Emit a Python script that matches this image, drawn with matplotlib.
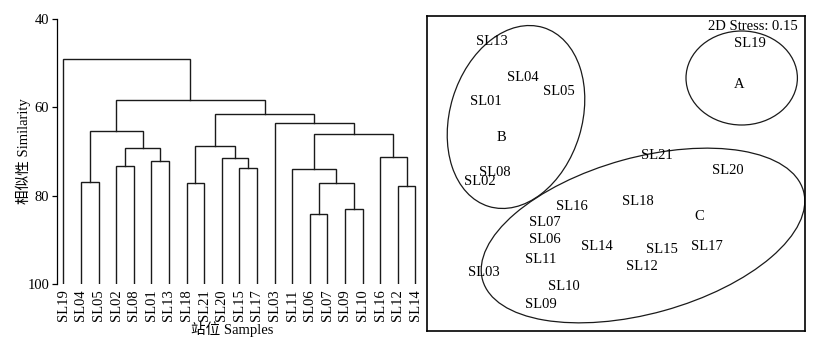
import matplotlib
matplotlib.use("Agg")
import matplotlib.pyplot as plt
from matplotlib.patches import Ellipse

plt.rcParams["font.family"] = ["Liberation Serif", "Noto Sans CJK SC"]
plt.rcParams["font.size"] = 10.5

# --- cluster dendrogram (leaf order left to right) ---
leaves = ["SL19", "SL04", "SL05", "SL02", "SL08", "SL01", "SL13", "SL18", "SL21",
          "SL20", "SL15", "SL17", "SL03", "SL11", "SL06", "SL07", "SL09", "SL10",
          "SL16", "SL12", "SL14"]
# (left, right, similarity) -> new node "n1", "n2", ...
merges = [
    ("SL04", "SL05", 76.9),
    ("SL02", "SL08", 73.2),
    ("SL01", "SL13", 72.2),
    ("n2", "n3", 69.3),
    ("n1", "n4", 65.4),
    ("SL18", "SL21", 77.1),
    ("SL15", "SL17", 73.8),
    ("SL20", "n7", 71.4),
    ("n6", "n8", 68.8),
    ("SL06", "SL07", 84.2),
    ("SL09", "SL10", 83.0),
    ("n10", "n11", 77.2),
    ("SL11", "n12", 73.9),
    ("SL12", "SL14", 77.9),
    ("SL16", "n14", 71.3),
    ("n13", "n15", 66.0),
    ("SL03", "n16", 63.5),
    ("n9", "n17", 61.4),
    ("n5", "n18", 58.3),
    ("SL19", "n19", 49.1),
]
sim_ticks = [40, 60, 80, 100]

# --- nMDS ordination ---
mds_labels = ["SL13", "SL19", "SL04", "SL05", "SL01", "SL21", "SL20", "SL08", "SL02",
              "SL16", "SL18", "SL07", "SL06", "SL14", "SL15", "SL17", "SL11", "SL12",
              "SL03", "SL10", "SL09"]
mds_x = [-1.24, 1.343, -0.93, -0.573, -1.303, 0.41, 1.117, -1.21, -1.357,
         -0.443, 0.223, -0.71, -0.71, -0.187, 0.457, 0.913, -0.75, 0.257,
         -1.32, -0.52, -0.75]
mds_y = [1.32, 1.302, 0.958, 0.825, 0.718, 0.185, 0.027, 0.008, -0.082,
         -0.332, -0.282, -0.492, -0.658, -0.732, -0.755, -0.732, -0.855, -0.925,
         -0.988, -1.125, -1.305]
groups = ["A", "B", "C"]
group_x = [1.233, -1.143, 0.833]
group_y = [0.892, 0.362, -0.432]
# ellipse center x, center y, width, height, angle
ell_cx = [1.257, -1.0, 0.27]
ell_cy = [0.955, 0.565, -0.62]
ell_w = [1.114, 1.32, 3.33]
ell_h = [0.94, 1.87, 1.56]
ell_ang = [0, -17, 15.5]
stress = 0.15

fig = plt.figure(figsize=(8.31, 3.51), dpi=100)
W, H = 831, 351

# left panel
ax = fig.add_axes([57 / W, 1 - 284 / H, 368 / W, 265 / H])
pos = {name: i for i, name in enumerate(leaves)}
hgt = {name: 100 for name in leaves}
for k, (a, b, h) in enumerate(merges, start=1):
    xa, xb = pos[a], pos[b]
    ax.plot([xa, xa, xb, xb], [hgt[a], h, h, hgt[b]], color="#1a1a1a", lw=1.0,
            solid_joinstyle="miter")
    pos[f"n{k}"] = (xa + xb) / 2
    hgt[f"n{k}"] = h

ax.set_ylim(100, 40)
ax.set_xlim(-0.358, 20.55)
ax.set_yticks(sim_ticks)
ax.set_xticks(range(len(leaves)))
ax.set_xticklabels(leaves, rotation=90, va="top", ha="center")
ax.tick_params(axis="x", length=0, pad=4)
ax.tick_params(axis="y", direction="out", length=3.5, width=0.9, pad=2)
for s in ["top", "right", "bottom"]:
    ax.spines[s].set_visible(False)
ax.spines["left"].set_linewidth(0.9)
ax.set_ylabel("相似性 Similarity")
ax.yaxis.set_label_coords(-0.07, 0.5)
ax.set_xlabel("站位 Samples")
ax.xaxis.set_label_coords(0.475, -0.14)

# right panel
ax2 = fig.add_axes([427.3 / W, 1 - 331 / H, 377.7 / W, 315 / H])
ax2.set_xlim(-1.887, 1.89)
ax2.set_ylim(-1.575, 1.575)
ax2.set_xticks([])
ax2.set_yticks([])
for s in ax2.spines.values():
    s.set_linewidth(1.2)
for lab, x, y in zip(mds_labels, mds_x, mds_y):
    ax2.text(x, y, lab, ha="center", va="center")
for g, x, y in zip(groups, group_x, group_y):
    ax2.text(x, y, g, ha="center", va="center")
for cx, cy, w, h, a in zip(ell_cx, ell_cy, ell_w, ell_h, ell_ang):
    ax2.add_patch(Ellipse((cx, cy), w, h, angle=a, fill=False, lw=0.9,
                          edgecolor="#1a1a1a"))
ax2.text(0.982, 0.988, f"2D Stress: {stress:.2f}", transform=ax2.transAxes,
         ha="right", va="top")

fig.savefig("out.png", dpi=100)
